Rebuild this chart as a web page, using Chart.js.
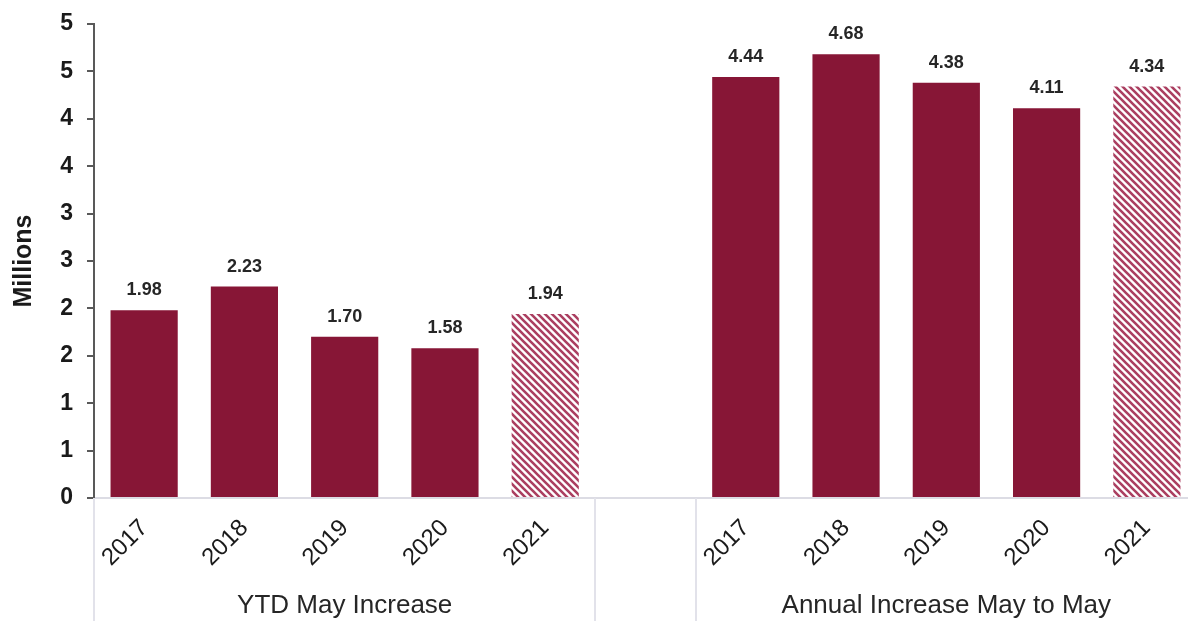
<!DOCTYPE html>
<html>
<head>
<meta charset="utf-8">
<script src="https://cdn.jsdelivr.net/npm/chart.js@4"></script>
<style>
  body { margin: 0; overflow: hidden; background: #fff; }
  #wrap { width: 1200px; height: 621px; }
</style>
</head>
<body>
<div id="wrap"><canvas id="bars" width="1200" height="621"></canvas></div>
<script>
var years = ['2017', '2018', '2019', '2020', '2021'];
var groups = ['YTD May Increase', 'Annual Increase May to May'];
var ytdValues = [1.98, 2.23, 1.70, 1.58, 1.94];
var annualValues = [4.44, 4.68, 4.38, 4.11, 4.34];
var yTicks = [0, 0.5, 1, 1.5, 2, 2.5, 3, 3.5, 4, 4.5, 5];

var maroon = '#871636';

// hatch for the 2021 estimate bars
var tile = document.createElement('canvas');
tile.width = 7; tile.height = 7;
var t = tile.getContext('2d');
t.fillStyle = '#fff';
t.fillRect(0, 0, 7, 7);
t.strokeStyle = '#ab3f61';
t.lineWidth = 2.6;
t.beginPath();
t.moveTo(-1, -1); t.lineTo(8, 8);
t.moveTo(-1, 6); t.lineTo(1, 8);
t.moveTo(6, -1); t.lineTo(8, 1);
t.stroke();
var hatch = t.createPattern(tile, 'repeat');

// one empty slot between the two groups
var labels = years.concat(['']).concat(years);
var values = ytdValues.concat([null]).concat(annualValues);
var colors = labels.map(function (l) { return l === '2021' ? hatch : (l === '' ? 'transparent' : maroon); });

var valueLabels = {
  id: 'valueLabels',
  afterDatasetsDraw: function (chart) {
    var ctx = chart.ctx;
    var meta = chart.getDatasetMeta(0);
    ctx.save();
    ctx.font = 'bold 18px "Liberation Sans", Arial, sans-serif';
    ctx.fillStyle = '#262626';
    ctx.textAlign = 'center';
    ctx.textBaseline = 'bottom';
    meta.data.forEach(function (bar, i) {
      if (values[i] == null) return;
      ctx.fillText(values[i].toFixed(2), bar.x, bar.y - 11);
    });
    ctx.restore();
  }
};

var groupAxis = {
  id: 'groupAxis',
  afterDraw: function (chart) {
    var ctx = chart.ctx;
    var x = chart.scales.x;
    var half = (x.getPixelForValue(1) - x.getPixelForValue(0)) / 2;
    var bottom = chart.chartArea.bottom;
    ctx.save();
    ctx.strokeStyle = '#e2e2ea';
    ctx.lineWidth = 2;
    [0, 5, 6, 11].forEach(function (i) {
      var px = Math.round(x.getPixelForValue(i) - half);
      ctx.beginPath();
      ctx.moveTo(px, bottom);
      ctx.lineTo(px, chart.height);
      ctx.stroke();
    });
    ctx.font = '26px "Liberation Sans", Arial, sans-serif';
    ctx.fillStyle = '#262626';
    ctx.textAlign = 'center';
    ctx.textBaseline = 'middle';
    ctx.fillText(groups[0], (x.getPixelForValue(0) + x.getPixelForValue(4)) / 2, 606);
    ctx.fillText(groups[1], (x.getPixelForValue(6) + x.getPixelForValue(10)) / 2, 606);
    ctx.restore();
  }
};

new Chart(document.getElementById('bars'), {
  type: 'bar',
  data: {
    labels: labels,
    datasets: [{
      data: values,
      backgroundColor: colors,
      borderWidth: 0,
      barPercentage: 0.67,
      categoryPercentage: 1
    }]
  },
  options: {
    responsive: false,
    animation: false,
    layout: { padding: { top: 24, right: 3, left: 0, bottom: 0 } },
    plugins: { legend: { display: false }, tooltip: { enabled: false } },
    scales: {
      x: {
        afterFit: function (s) { s.height = 123; },
        border: { color: '#dcdce4', width: 2 },
        grid: { display: false, drawTicks: false },
        ticks: {
          color: '#1a1a1a',
          maxRotation: 45, minRotation: 45,
          padding: 16,
          autoSkip: false,
          font: { family: '"Liberation Sans", Arial, sans-serif', size: 24 }
        }
      },
      y: {
        min: 0, max: 5,
        afterFit: function (s) { s.width = 94; s.paddingTop = 0; s.paddingBottom = 0; },
        afterBuildTicks: function (s) { s.ticks = yTicks.map(function (v) { return { value: v }; }); },
        border: { color: '#595959', width: 2 },
        grid: { drawOnChartArea: false, tickLength: 7, color: '#595959', lineWidth: 2 },
        ticks: {
          color: '#1a1a1a',
          padding: 14,
          callback: function (v) { return Math.round(v).toFixed(0); },
          font: { family: '"Liberation Sans", Arial, sans-serif', size: 23, weight: 'bold' }
        },
        title: {
          display: true,
          text: 'Millions',
          color: '#1a1a1a',
          padding: { top: 9, bottom: 0 },
          font: { family: '"Liberation Sans", Arial, sans-serif', size: 25, weight: 'bold' }
        }
      }
    }
  },
  plugins: [valueLabels, groupAxis]
});
</script>
</body>
</html>
